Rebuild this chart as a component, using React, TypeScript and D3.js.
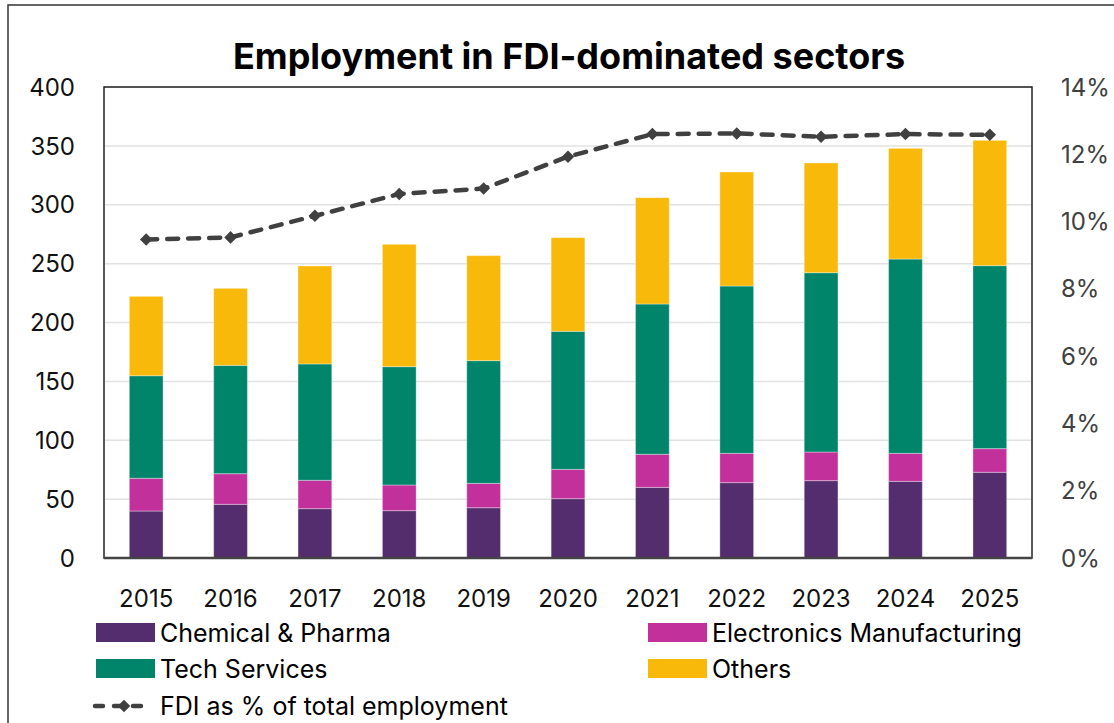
import React from "react";
import * as d3 from "d3";

const years = ["2015","2016","2017","2018","2019","2020","2021","2022","2023","2024","2025"];
const chemicalPharma = [39.9, 45.6, 41.9, 40.2, 42.7, 50.4, 60.0, 64.0, 65.7, 65.1, 72.8];
const electronicsMfg = [27.8, 26.0, 24.1, 21.8, 20.7, 24.9, 28.1, 24.9, 24.3, 23.8, 20.1];
const techServices = [87.1, 92.0, 98.8, 100.5, 104.2, 117.2, 127.6, 142.1, 152.3, 165.0, 155.4];
const others = [67.4, 65.4, 83.2, 103.9, 89.2, 79.6, 90.3, 96.8, 93.2, 94.0, 106.4];
const fdiShare = [9.47, 9.53, 10.17, 10.82, 10.98, 11.93, 12.60, 12.62, 12.52, 12.60, 12.58];

const leftTicks = [0, 50, 100, 150, 200, 250, 300, 350, 400];
const rightTicks = [0, 2, 4, 6, 8, 10, 12, 14];

const seriesKeys = ["Chemical & Pharma", "Electronics Manufacturing", "Tech Services", "Others"];
const seriesColors = ["#532D6D", "#C2309B", "#00856A", "#F9B90B"];
const lineLabel = "FDI as % of total employment";
const title = "Employment in FDI-dominated sectors";

const FONT = "Inter, 'Noto Sans', sans-serif";

export default function App() {
  const left = 104, right = 1032, top = 87, bottom = 558;
  const x = d3.scaleBand<string>().domain(years).range([left, right]).paddingInner(0.6).paddingOuter(0.3);
  const y = d3.scaleLinear().domain([0, 400]).range([bottom, top]);
  const y2 = d3.scaleLinear().domain([0, 14]).range([bottom, top]);

  const rows = years.map((yr, i) => ({
    year: yr,
    [seriesKeys[0]]: chemicalPharma[i],
    [seriesKeys[1]]: electronicsMfg[i],
    [seriesKeys[2]]: techServices[i],
    [seriesKeys[3]]: others[i],
  }));
  const stacked = d3.stack<any>().keys(seriesKeys)(rows);

  const line = d3.line<number>()
    .x((_, i) => (x(years[i]) as number) + x.bandwidth() / 2)
    .y((d) => y2(d));
  const diamond = d3.symbol().type(d3.symbolDiamond2 || d3.symbolDiamond).size(100)();

  const legendItems = [
    { key: seriesKeys[0], color: seriesColors[0], sx: 96, y: 633 },
    { key: seriesKeys[1], color: seriesColors[1], sx: 648, y: 633 },
    { key: seriesKeys[2], color: seriesColors[2], sx: 96, y: 669 },
    { key: seriesKeys[3], color: seriesColors[3], sx: 648, y: 669 },
  ];

  return (
    <svg width={1114} height={723} style={{ position: "absolute", left: 0, top: 0, background: "#fff" }} fontFamily={FONT}>
      <rect x={8} y={5} width={1120} height={740} fill="#fff" stroke="#333" strokeWidth={1.5} />
      <text x={569} y={69} textAnchor="middle" fontSize={36} fontWeight={700} fill="#000">{title}</text>

      {leftTicks.map((t) => (
        <line key={"g" + t} x1={left} x2={right} y1={y(t)} y2={y(t)} stroke="#e2e2e2" strokeWidth={1.5} />
      ))}

      {stacked.map((s, si) => (
        <g key={s.key} fill={seriesColors[si]}>
          {s.map((d, i) => (
            <rect key={i} x={x(years[i])} y={y(d[1])} width={x.bandwidth()} height={y(d[0]) - y(d[1])}
              stroke="#ffffff" strokeOpacity={0.35} strokeWidth={1} />
          ))}
        </g>
      ))}

      <rect x={left} y={top} width={right - left} height={bottom - top} fill="none" stroke="#222" strokeWidth={1.5} />
      <line x1={left} x2={right} y1={bottom} y2={bottom} stroke="#444" strokeWidth={2.5} />

      {leftTicks.map((t) => (
        <text key={"l" + t} x={75} y={y(t)} dy="0.36em" textAnchor="end" fontSize={24} fill="#111">{t}</text>
      ))}
      {rightTicks.map((t) => (
        <text key={"r" + t} x={1061} y={y2(t)} dy="0.36em" textAnchor="start" fontSize={24} fill="#404040">{t + "%"}</text>
      ))}
      {years.map((yr) => (
        <text key={"x" + yr} x={(x(yr) as number) + x.bandwidth() / 2} y={607} textAnchor="middle" fontSize={24} fill="#111">{yr}</text>
      ))}

      <path d={line(fdiShare) || ""} fill="none" stroke="#404040" strokeWidth={4.5} strokeDasharray="11 10" strokeLinecap="round" />
      {fdiShare.map((v, i) => (
        <path key={"m" + i} d={diamond || ""} transform={`translate(${(x(years[i]) as number) + x.bandwidth() / 2},${y2(v)})`} fill="#404040" />
      ))}

      {legendItems.map((it) => (
        <g key={it.key}>
          <rect x={it.sx} y={it.y - 10} width={59} height={19} fill={it.color} />
          <text x={it.sx + 64} y={it.y} dy="0.36em" fontSize={25} fill="#000">{it.key}</text>
        </g>
      ))}
      <g>
        <line x1={95} x2={150} y1={706} y2={706} stroke="#404040" strokeWidth={4.5} strokeDasharray="8 11" strokeLinecap="round" />
        <path d={diamond || ""} transform="translate(124,706)" fill="#404040" />
        <text x={160} y={706} dy="0.36em" fontSize={25} fill="#000">{lineLabel}</text>
      </g>
    </svg>
  );
}
